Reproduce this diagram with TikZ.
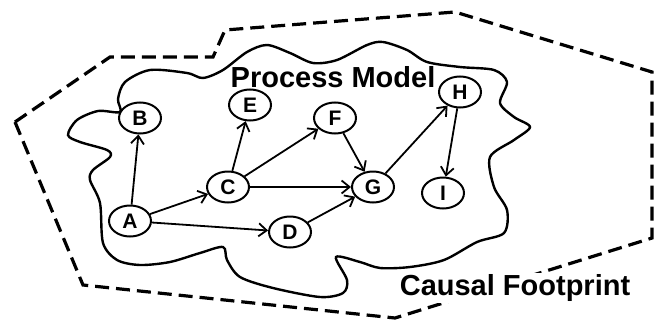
\documentclass[tikz,border=0pt]{standalone}
\usepackage{fontspec}
\setmainfont{Liberation Sans}
\usetikzlibrary{shapes.geometric,arrows.meta}
\begin{document}
\begin{tikzpicture}[x=0.5pt, y=-0.5pt,
    act/.style={draw, ellipse, fill=white, line width=1pt, minimum width=21pt, minimum height=15.5pt, inner sep=0pt, font=\fontsize{10.5}{12}\selectfont\bfseries},
    flow/.style={-{Straight Barb[length=4pt,width=6.5pt]}, line width=0.9pt},
    title/.style={inner sep=0.5pt, font=\fontsize{14.5}{16}\selectfont\bfseries}]
\useasboundingbox (0,0) rectangle (657,321);

\draw[line width=1.6pt, dash pattern=on 7pt off 3.5pt] (15,122)--(110,57)--(213,57)--(225,30)--(455,12)--(652,72)--(652,238)--(395,318)--(83,285)--cycle;

\draw[line width=1.2pt] plot[smooth cycle, tension=0.5] coordinates {
 (120,112) (118,99) (125,82) (150,70) (187,73) (203,78) (223,70) (247,52) (267,45) (290,53) (313,63)
 (337,60) (367,45) (383,42) (407,50) (427,62) (460,67) (494,70) (507,82) (500,103) (514,117)
 (530,127) (514,140) (490,157) (494,187) (507,210) (504,233) (477,242) (444,260) (410,267)
 (380,268) (360,262) (336,257) (347,280) (343,293) (320,297) (273,288) (240,277) (227,260)
 (223,247) (200,253) (170,262) (140,265) (117,260) (103,243) (100,203) (90,180) (93,170)
 (110,157) (107,150) (80,142) (68,135) (77,120) (98,111)};

\node[title] (pm) at (333,77) {Process Model};
\node[title, fill=white] (cf) at (515,288) {Causal Footprint};

\node[act] (A) at (130,221) {A};
\node[act] (B) at (140,118) {B};
\node[act] (C) at (228,187) {C};
\node[act] (D) at (290,232) {D};
\node[act] (E) at (250,105) {E};
\node[act] (F) at (335,118) {F};
\node[act] (G) at (373,187) {G};
\node[act] (H) at (460,92) {H};
\node[act] (I) at (443,193) {I};

\draw[flow] (A)--(B);
\draw[flow] (A)--(C);
\draw[flow] (A)--(D);
\draw[flow] (C)--(E);
\draw[flow] (C)--(F);
\draw[flow] (C)--(G);
\draw[flow] (D)--(G);
\draw[flow] (F)--(G);
\draw[flow] (G)--(H);
\draw[flow] (H)--(I);
\end{tikzpicture}
\end{document}
